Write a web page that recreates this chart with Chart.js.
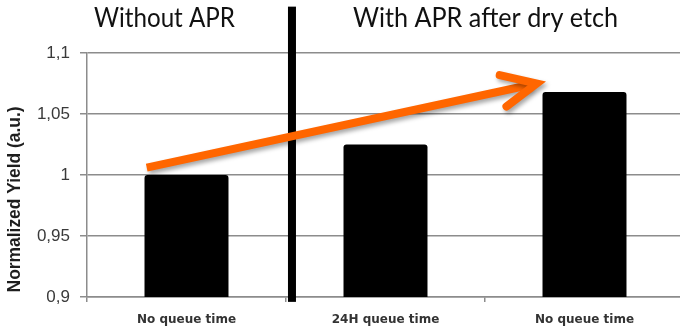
<!DOCTYPE html>
<html>
<head>
<meta charset="utf-8">
<script src="https://cdn.jsdelivr.net/npm/chart.js@4.4.1/dist/chart.umd.min.js"></script>
<style>
  html, body { margin: 0; padding: 0; background: #fff; overflow: hidden; }
  #wrap { width: 690px; height: 331px; position: relative; }
</style>
</head>
<body>
<div id="wrap"><canvas id="chart" width="690" height="331"></canvas></div>
<script>
// Normalized yield per process condition
const categories = ['No queue time', '24H queue time', 'No queue time'];
const yieldValues = [1.0, 1.025, 1.068];
const yTickLabels = ['0,9', '0,95', '1', '1,05', '1,1'];
const groupTitles = ['Without APR', 'With APR after dry etch'];
const yAxisTitle = 'Normalized Yield (a.u.)';

// Overlay geometry, in axis units (category index, yield)
const dividerAt = { x: 0.53, yTop: 1.138, yBottom: 0.896 };
const trendArrow = { from: [-0.2, 1.006], to: [1.76, 1.075] };

const overlay = {
  id: 'overlay',
  afterDatasetsDraw(chart) {
    const { ctx, scales: { x, y } } = chart;
    ctx.save();

    // y-axis title, sitting a little below the plot's mid-height
    ctx.save();
    ctx.translate(15, y.getPixelForValue(0.980));
    ctx.rotate(-Math.PI / 2);
    ctx.font = 'bold 18px "Liberation Sans"';
    ctx.fillStyle = '#1e1e1e';
    ctx.textAlign = 'center';
    ctx.textBaseline = 'middle';
    ctx.fillText(yAxisTitle, 0, 0, 186);
    ctx.restore();

    // group divider
    const dx = x.getPixelForValue(dividerAt.x);
    ctx.fillStyle = '#000';
    const top = y.getPixelForValue(dividerAt.yTop);
    const bot = y.getPixelForValue(dividerAt.yBottom);
    ctx.fillRect(dx - 4, top, 8, bot - top);

    // group headings
    ctx.font = '27px Lato';
    ctx.fillStyle = '#111';
    ctx.textBaseline = 'alphabetic';
    ctx.textAlign = 'left';
    ctx.fillText(groupTitles[0], 94, 27, 141);
    ctx.fillText(groupTitles[1], 353, 27, 265);

    // trend arrow
    const x0 = x.getPixelForValue(trendArrow.from[0]);
    const y0 = y.getPixelForValue(trendArrow.from[1]);
    const x1 = x.getPixelForValue(trendArrow.to[0]);
    const y1 = y.getPixelForValue(trendArrow.to[1]);
    const ang = Math.atan2(y1 - y0, x1 - x0);
    const wing = 38, spread = 25 * Math.PI / 180;
    ctx.shadowColor = 'rgba(0,0,0,0.35)';
    ctx.shadowBlur = 4;
    ctx.shadowOffsetX = 2;
    ctx.shadowOffsetY = 3;
    ctx.strokeStyle = '#ff6600';
    ctx.lineWidth = 8;
    ctx.lineCap = 'butt';
    ctx.beginPath();
    ctx.moveTo(x0, y0);
    ctx.lineTo(x1 - 6 * Math.cos(ang), y1 - 6 * Math.sin(ang));
    ctx.stroke();
    ctx.lineCap = 'round';
    ctx.lineJoin = 'miter';
    ctx.beginPath();
    ctx.moveTo(x1 - wing * Math.cos(ang - spread), y1 - wing * Math.sin(ang - spread));
    ctx.lineTo(x1, y1);
    ctx.lineTo(x1 - wing * Math.cos(ang + spread), y1 - wing * Math.sin(ang + spread));
    ctx.stroke();

    ctx.restore();
  }
};

new Chart(document.getElementById('chart'), {
  type: 'bar',
  data: {
    labels: categories,
    datasets: [{
      data: yieldValues,
      backgroundColor: '#000',
      borderRadius: 3,
      borderSkipped: 'bottom',
      categoryPercentage: 1,
      barPercentage: 0.422
    }]
  },
  options: {
    responsive: false,
    animation: false,
    devicePixelRatio: 1,
    layout: { padding: { top: 53, right: 6, bottom: 0, left: 0 } },
    plugins: { legend: { display: false }, tooltip: { enabled: false } },
    scales: {
      x: {
        grid: { display: true, drawOnChartArea: false, drawTicks: true, tickLength: 5, offset: true, color: '#8c8c8c', lineWidth: 1.5 },
        border: { display: true, color: '#8c8c8c', width: 1.5 },
        ticks: { color: '#333', padding: 11, maxRotation: 0, font: { family: 'DejaVu Sans', weight: 'bold', size: 12 } },
        afterFit(s) { s.height = 34; }
      },
      y: {
        min: 0.9,
        max: 1.1,
        ticks: {
          stepSize: 0.05,
          padding: 10,
          color: '#3a3a3a',
          font: { family: 'Liberation Sans', size: 17 },
          callback: (v, i) => yTickLabels[i]
        },
        grid: { color: '#8c8c8c', lineWidth: 1.5, tickLength: 7 },
        border: { display: true, color: '#8c8c8c', width: 1.5 },
        afterFit(s) { s.width = 87; }
      }
    }
  },
  plugins: [overlay]
});
</script>
</body>
</html>
